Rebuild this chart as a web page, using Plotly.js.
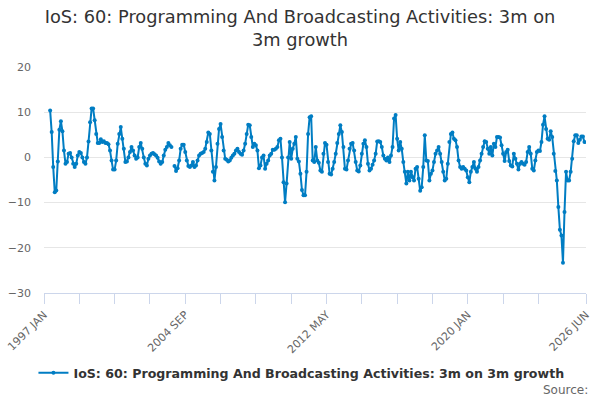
<!doctype html>
<html>
<head>
  <meta charset="utf-8">
  <title>IoS: 60: Programming And Broadcasting Activities</title>
  <script src="https://cdn.plot.ly/plotly-3.0.1.min.js"></script>
  <style>
    body {
      margin: 0;
      font-family: "DejaVu Sans";
    }
  </style>
</head>
<body>
  <div id="chart" style="width:600px;height:400px;"></div>
  <script>
      // series name and monthly values (1997 MAY onwards)
      var seriesName = 'IoS: 60: Programming And Broadcasting Activities: 3m on 3m growth';
      var firstIndex = 4;
      var growth = [
        10.4, 5.6, -2.1, -7.7, -7.3, -0.9, 6.1, 8.0, 5.8, 1.5, -1.4, -1.0, 0.8, 1.0, 0.0, -1.4,
        -2.1, -1.4, 0.4, 1.2, 1.0, 0.0, -1.0, -1.4, 0.0, 3.5, 7.8, 10.8, 10.8, 8.2, 5.2, 3.2,
        3.2, 4.0, 3.4, 3.6, 3.2, 3.2, 2.9, 1.5, -0.7, -2.7, -2.7, -0.7, 3.0, 5.2, 6.7, 4.1,
        1.9, -1.0, -0.9, 0.0, 1.2, 2.3, 1.5, 0.4, -0.3,
        0.0, 2.3, 3.2, 1.9, 0.0, -1.4, -1.8, -0.3, 0.4, 0.8, 1.0, 0.7, 0.4, -0.1, -0.9, -1.4,
        -1.0, 0.4, 1.7, 2.3, 3.2, 2.7, 2.3, null, -1.9, -3.0, -2.4, -0.7, 1.9, 2.8, 2.8, 1.2,
        -0.7, -1.9, -2.1, -1.8, -1.0, -2.1, -1.8, -0.7, 0.4, 0.8, 1.0, 1.2, 1.9, 3.4, 5.5, 5.2,
        1.5, -3.2, -5.1, -2.1, 3.0, 6.3, 7.4, 4.5, 1.5, -0.3,
        -0.5, -0.9, -0.7, -0.1, 0.4, 0.8, 1.5, 1.9, 1.2, 0.8, 0.6, 1.5, 3.0, 5.2, 7.2, 7.1,
        4.5, 2.3, 3.0, 2.7, 1.5, -2.4, -1.8, 0.0, 0.4, -2.5, -1.4, -0.7, 0.4, 0.8, 1.7, 1.7,
        1.9, 2.3, 3.8, 4.1, 0.0, -5.5, -9.9, -5.8, 0.0, 3.4, -0.3, 1.9, 3.0, 4.5, -0.3, -0.9,
        -3.6, -7.2, -8.4, -8.4, -3.2, 5.2, 8.9, 9.1, -0.7, -1.0, 2.3,
        -0.7, -1.2, -2.9, -3.2, 0.8, 3.2, 2.8, -1.0, -3.6, -3.8, -2.5, -1.0, 0.8, 3.2, 5.2, 7.1,
        5.6, 2.3, -2.5, -2.7, -0.7, 1.9, 3.0, 3.2, 1.5, -1.0, -2.9, -3.1, -1.8, 0.8, 3.0, 3.8,
        2.3, -1.4, -2.9, -2.5, -1.6, -0.7, 0.8, 3.5, 3.6, 3.4, 2.3, 0.4, -0.3, -0.7, 0.0, -1.0,
        0.4, 2.3, 8.6, 9.4, 4.1, 1.5, 3.4, 1.9, -1.0, -3.2, -5.8,
        -3.2, -5.1, -3.2, -4.4, -5.1, -2.5, -2.1, -4.7, -7.4, -6.6, -2.1, 4.9, -0.7, -0.8, -5.1, -3.6,
        -2.9, -1.0, 0.8, 1.5, 2.3, 0.8, -1.0, -3.2, -5.1, -4.7, -1.4, 3.4, 5.2, 5.5, 4.1, 3.8,
        2.3, -0.7, -2.1, -2.5, -2.1, -2.5, -2.9, -4.4, -5.5, -3.2, -2.1, -1.0, -2.5, -3.2, -2.1, -0.7,
        0.8, 2.3, 3.6, 3.4, 1.9, 0.8, 2.3, 0.4, 3.0, 2.3, 4.5,
        4.5, 4.4, 2.7, 0.8, -0.8, 1.2, 1.7, -0.8, -1.8, -2.0, 0.8, -0.3, -1.4, -2.7, -1.4, -1.0,
        -1.4, -1.6, -1.0, 1.2, 2.3, 0.8, -2.5, -2.9, -0.7, 1.2, 1.5, 1.4, 3.4, 7.2, 9.1, 6.3,
        4.1, 3.9, 5.8, 4.5, 0.8, -3.0, -5.1, -11.0, -16.0, -17.3, -23.3, -12.1, -3.2, -5.1, -5.1, -3.2,
        -0.3, 3.6, 4.9, 4.9, 3.2, 3.9, 4.6, 4.6, 3.4
      ];

      // axis labels (month index from 1997 JAN)
      var tickIndex = [0, 23, 46, 69, 92, 115, 138, 161, 184, 207, 230, 253, 276, 299, 322, 353];
      var tickLabels = ['1997 JAN', '', '', '', '2004 SEP', '', '', '', '2012 MAY', '', '', '', '2020 JAN', '', '', '2026 JUN'];
      var yTicks = [20, 10, 0, -10, -20, -30];

      var xs = growth.map(function(v, i) { return firstIndex + i; });

      var trace = {
        x: xs,
        y: growth,
        name: seriesName,
        type: 'scatter',
        mode: 'lines+markers',
        connectgaps: false,
        line: {color: '#007dc3', width: 2},
        marker: {color: '#007dc3', size: 4}
      };

      var layout = {
        width: 600,
        height: 400,
        margin: {l: 43.5, r: 14, t: 67, b: 107},
        paper_bgcolor: '#ffffff',
        plot_bgcolor: '#ffffff',
        font: {family: 'DejaVu Sans', color: '#666666', size: 11},
        title: {
          text: 'IoS: 60: Programming And Broadcasting Activities: 3m on<br>3m growth',
          font: {size: 17.8, color: '#333333'},
          x: 0.5,
          xref: 'container',
          y: 0.942,
          yref: 'container',
          yanchor: 'top'
        },
        showlegend: true,
        legend: {
          orientation: 'h',
          x: 0.475,
          xanchor: 'center',
          y: -0.354,
          yanchor: 'middle',
          font: {size: 12.6, color: '#333333', weight: 'bold'}
        },
        xaxis: {
          range: [0, 353],
          tickmode: 'array',
          tickvals: tickIndex,
          ticktext: tickLabels,
          tickangle: -45,
          ticks: 'outside',
          ticklen: 10,
          tickcolor: '#ccd6eb',
          showline: true,
          linecolor: '#ccd6eb',
          showgrid: false,
          zeroline: false,
          tickfont: {size: 11, color: '#666666'}
        },
        yaxis: {
          range: [-30, 20],
          tickmode: 'array',
          tickvals: yTicks,
          ticks: '',
          ticklabelstandoff: 12,
          showgrid: true,
          gridcolor: '#e6e6e6',
          zeroline: false,
          showline: false,
          tickfont: {size: 11, color: '#666666'}
        },
        annotations: [{
          text: 'Source:',
          xref: 'paper',
          yref: 'paper',
          x: 1.007,
          xanchor: 'right',
          y: -0.429,
          yanchor: 'middle',
          showarrow: false,
          font: {size: 12, color: '#666666'}
        }]
      };

      Plotly.newPlot('chart', [trace], layout, {displayModeBar: false});
  </script>
</body>
</html>
